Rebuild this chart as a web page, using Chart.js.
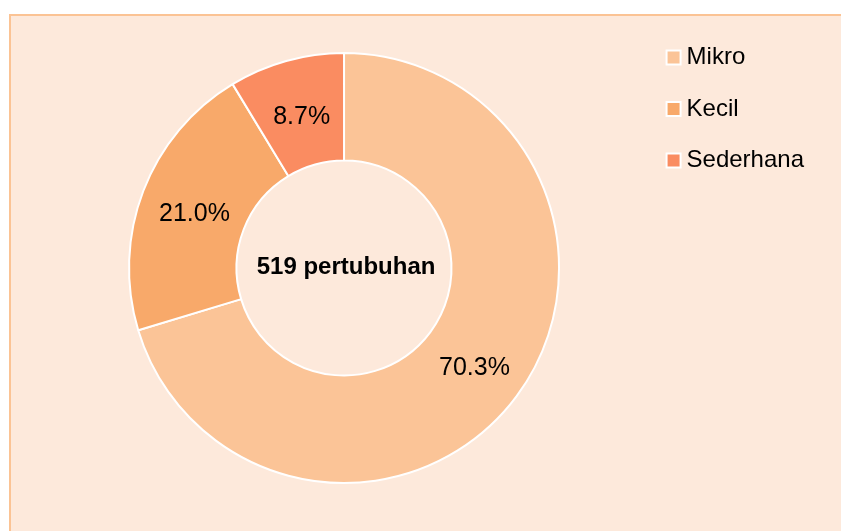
<!DOCTYPE html>
<html>
<head>
<meta charset="utf-8">
<script src="https://cdn.jsdelivr.net/npm/chart.js@4/dist/chart.umd.min.js"></script>
<style>
  html, body { margin: 0; padding: 0; background: #ffffff; width: 841px; height: 531px; overflow: hidden; }
  #panel { position: absolute; left: 9px; top: 14px; width: 832px; height: 517px; background: #FDE9DB; border-top: 2px solid #FBC394; border-left: 2px solid #FBC394; box-sizing: border-box; }
  #wrap { position: absolute; left: 0; top: 0; width: 841px; height: 531px; }
</style>
</head>
<body>
<div id="panel"></div>
<div id="wrap"><canvas id="c" width="841" height="531"></canvas></div>
<script>
const categories = ['Mikro', 'Kecil', 'Sederhana'];
const counts = [365, 109, 45];
const percentLabels = ['70.3%', '21.0%', '8.7%'];
const centerLabel = '519 pertubuhan';
const colors = ['#FBC497', '#F8A96A', '#FA8C61'];

const FONT = '"Liberation Sans", Arial, Helvetica, sans-serif';

const labelPlugin = {
  id: 'sliceLabels',
  afterDatasetsDraw(chart) {
    const ctx = chart.ctx;
    const meta = chart.getDatasetMeta(0);
    ctx.save();
    ctx.textAlign = 'center';
    ctx.textBaseline = 'middle';
    ctx.fillStyle = '#000000';
    ctx.font = '25px ' + FONT;
    meta.data.forEach((arc, i) => {
      const p = arc.tooltipPosition();
      ctx.fillText(percentLabels[i], p.x + 1, p.y + 4);
    });
    const a0 = meta.data[0];
    ctx.font = 'bold 24px ' + FONT;
    ctx.fillText(centerLabel, a0.x + 2, a0.y - 1);
    ctx.restore();
  }
};

new Chart(document.getElementById('c'), {
  type: 'doughnut',
  data: {
    labels: categories,
    datasets: [{
      data: counts,
      backgroundColor: colors,
      borderColor: '#FFFFFF',
      borderWidth: 2
    }]
  },
  options: {
    responsive: false,
    animation: false,
    radius: 215,
    cutout: '50%',
    layout: { padding: { left: 43, right: 27, top: 18, bottom: 13 } },
    plugins: {
      tooltip: { enabled: false },
      legend: {
        position: 'right',
        align: 'start',
        labels: {
          usePointStyle: true,
          pointStyle: 'rect',
          boxWidth: 2,
          boxHeight: 14,
          padding: 27.5,
          color: '#000000',
          font: { size: 24, family: FONT }
        }
      }
    }
  },
  plugins: [labelPlugin]
});
</script>
</body>
</html>
